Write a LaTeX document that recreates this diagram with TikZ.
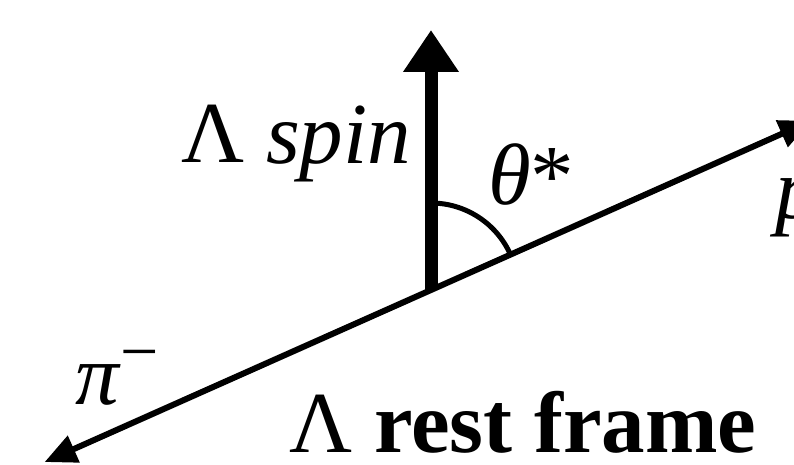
\documentclass[tikz,border=0pt]{standalone}
\usepackage{fontspec}
\setmainfont{Liberation Serif}
\usetikzlibrary{arrows.meta, calc}
\tikzset{
    txt/.style={inner sep=0pt, anchor=base west, font=\fontsize{87}{100}\selectfont},
    spinarrow/.style={-{Triangle[length=42pt, width=53pt]}, line width=13pt},
    momarrow/.style={{Triangle[length=32pt, width=28pt]}-{Triangle[length=32pt, width=28pt]}, line width=6pt},
    anglearc/.style={line width=5pt}
}

\begin{document}
\begin{tikzpicture}[x=1pt, y=1pt]
    \clip (0,0) rectangle (794,464);

    % Decay vertex and arrow ends
    \coordinate (vertex) at (431,174);
    \coordinate (spintip) at (431,434);
    \coordinate (ptip) at ($(vertex)+(24:416)$);
    \coordinate (pitip) at ($(vertex)+(204:423)$);

    % Proton and pion momenta
    \draw[momarrow] (pitip) -- (ptip);

    % Lambda spin
    \draw[spinarrow] (vertex) -- (spintip);

    % Angle theta*
    \draw[anglearc] ($(vertex)+(0,87)$) arc[start angle=90, end angle=24, radius=87];

    % Labels
    \node[txt] (spinlabel) at (181,301) {Λ \textit{spin}};
    \node[txt] (thetalabel) at (488,259) {\textit{θ}*};
    \node[txt] (plabel) at (775,246) {\textit{p}};
    \node[txt] (pilabel) at (75,60) {\textit{π}\raisebox{30pt}{\fontsize{68}{68}\selectfont −}};
    \node[txt] (framelabel) at (289,12) {Λ \textbf{rest frame}};
\end{tikzpicture}
\end{document}
